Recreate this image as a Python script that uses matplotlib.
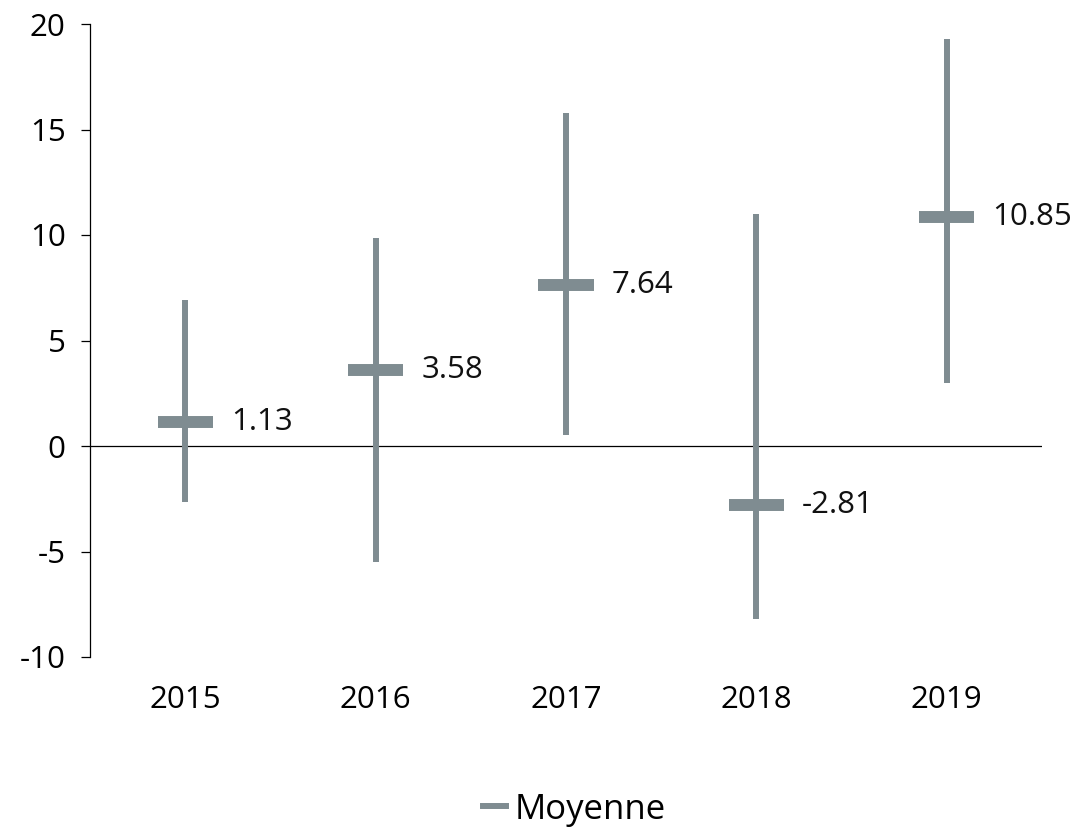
import matplotlib
matplotlib.use("Agg")
import matplotlib.pyplot as plt
from matplotlib.lines import Line2D

years = ["2015", "2016", "2017", "2018", "2019"]
means = [1.13, 3.58, 7.64, -2.81, 10.85]
lows = [-2.65, -5.5, 0.52, -8.2, 2.99]
highs = [6.9, 9.86, 15.78, 11.0, 19.29]

plt.rcParams["font.family"] = ["Open Sans", "DejaVu Sans"]
plt.rcParams["axes.unicode_minus"] = False
color = "#7f8c91"

fig = plt.figure(figsize=(10.76, 8.32), dpi=100)
ax = fig.add_axes([90 / 1076, 1 - 657 / 832, (1042 - 90) / 1076, (657 - 24) / 832])

x = list(range(len(years)))
ax.vlines(x, lows, highs, color=color, linewidth=4.3)
ax.hlines(means, [i - 0.145 for i in x], [i + 0.145 for i in x],
          color=color, linewidth=8.6)
for i, m in zip(x, means):
    ax.text(i + 0.24, m, f"{m:.2f}", va="center", ha="left", fontsize=22.5,
            color="#111111")

ax.axhline(0, color="black", linewidth=0.9, zorder=0)
ax.set_xlim(-0.5, 4.5)
ax.set_ylim(-10, 20)
ax.set_yticks(range(-10, 21, 5))
ax.set_xticks(x)
ax.set_xticklabels(years)
ax.tick_params(axis="x", length=0, pad=20, labelsize=22.5)
ax.tick_params(axis="y", length=6.5, width=0.9, pad=11, labelsize=22.5)
for side in ["top", "right", "bottom"]:
    ax.spines[side].set_visible(False)
ax.spines["left"].set_linewidth(0.9)

handle = Line2D([], [], color=color, linewidth=4.3)
fig.legend([handle], ["Moyenne"], loc="center", bbox_to_anchor=(0.534, 0.027),
           frameon=False, fontsize=25, handlelength=0.65, handletextpad=0.25)

fig.savefig("out.png", dpi=100)
